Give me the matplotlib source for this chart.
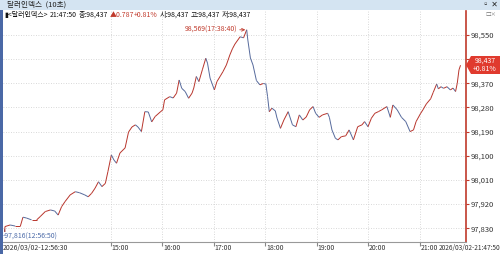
import matplotlib.pyplot as plt
from matplotlib.collections import LineCollection
from matplotlib.patches import Rectangle, Polygon

plt.rcParams['font.family'] = ['Noto Sans CJK KR', 'DejaVu Sans']

# 10-second dollar index
times = ["12:56:30", "12:56:50", "12:57", "13:03", "13:09", "13:15", "13:18", "13:22", "13:28", "13:34",
         "13:38", "13:44", "13:50", "13:55", "13:59", "14:03", "14:07", "14:13", "14:19", "14:24",
         "14:30", "14:34", "14:38", "14:42", "14:46", "14:50", "14:54", "14:57", "15:01", "15:04",
         "15:07", "15:11", "15:17", "15:21", "15:25", "15:29", "15:32", "15:36", "15:40", "15:44",
         "15:48", "15:52", "15:58", "16:01", "16:03", "16:09", "16:13", "16:17", "16:20", "16:23",
         "16:27", "16:31", "16:35", "16:37", "16:40", "16:43", "16:47", "16:51", "16:53", "16:56",
         "17:01", "17:04", "17:08", "17:11", "17:15", "17:19", "17:22", "17:25", "17:31", "17:35",
         "17:38:40", "17:40", "17:43", "17:46", "17:50", "17:54", "17:58", "18:01", "18:03", "18:05",
         "18:08", "18:12", "18:14", "18:18", "18:22", "18:27", "18:32", "18:36", "18:40", "18:44",
         "18:48", "18:52", "18:56", "18:59", "19:03", "19:07", "19:13", "19:15", "19:18", "19:22",
         "19:25", "19:29", "19:34", "19:38", "19:43", "19:48", "19:53", "19:56", "20:00", "20:04",
         "20:08", "20:12", "20:16", "20:22", "20:26", "20:29", "20:34", "20:39", "20:44", "20:49",
         "20:53", "20:56", "21:01", "21:04", "21:08", "21:13", "21:16", "21:20", "21:22", "21:25",
         "21:28", "21:32", "21:36", "21:39", "21:42", "21:44", "21:46", "21:47:50"]
prices = [97.826, 97.816, 97.836, 97.842, 97.838, 97.838, 97.871, 97.868, 97.861, 97.861,
          97.873, 97.892, 97.898, 97.894, 97.879, 97.910, 97.929, 97.954, 97.966, 97.962,
          97.954, 97.947, 97.960, 97.979, 98.003, 97.985, 97.997, 98.041, 98.103, 98.084,
          98.072, 98.110, 98.129, 98.188, 98.207, 98.215, 98.207, 98.190, 98.264, 98.263,
          98.226, 98.246, 98.263, 98.271, 98.308, 98.320, 98.315, 98.333, 98.382, 98.351,
          98.339, 98.314, 98.333, 98.352, 98.395, 98.376, 98.420, 98.463, 98.445, 98.389,
          98.345, 98.376, 98.397, 98.413, 98.438, 98.475, 98.498, 98.516, 98.543, 98.539,
          98.569, 98.531, 98.464, 98.438, 98.380, 98.364, 98.369, 98.367, 98.320, 98.264,
          98.277, 98.267, 98.240, 98.202, 98.233, 98.264, 98.215, 98.208, 98.252, 98.233,
          98.244, 98.271, 98.283, 98.258, 98.243, 98.252, 98.258, 98.243, 98.196, 98.165,
          98.159, 98.171, 98.174, 98.196, 98.159, 98.208, 98.215, 98.227, 98.208, 98.240,
          98.258, 98.264, 98.271, 98.283, 98.243, 98.289, 98.271, 98.243, 98.227, 98.190,
          98.196, 98.227, 98.256, 98.271, 98.293, 98.312, 98.336, 98.367, 98.349, 98.357,
          98.351, 98.357, 98.345, 98.352, 98.339, 98.370, 98.420, 98.437]
y_ticks = [97.830, 97.920, 98.010, 98.100, 98.190, 98.280, 98.370, 98.460, 98.550]
hour_ticks = [15, 16, 17, 18, 19, 20, 21]
hour_labels = ["15:00", "16:00", "17:00", "18:00", "19:00", "20:00", "21:00"]
assert len(times) == len(prices)


def to_hours(s):
    parts = [int(p) for p in s.split(':')] + [0]
    return parts[0] + parts[1] / 60 + parts[2] / 3600


def comma(v):
    return f"{v:.3f}".replace('.', ',')


hours = [to_hours(t) for t in times]

RED = '#b8352c'
BLUE = '#566a9c'
W, H = 500, 254
FS = 5


def fx(px):
    return px / W


def fy(py):
    return 1 - py / H


fig = plt.figure(figsize=(5, 2.54), dpi=100)

# window chrome
fig.patches.append(Rectangle((0, fy(10)), 1, 10 / H, transform=fig.transFigure,
                             facecolor='#d4e4f2', edgecolor='none'))
fig.patches.append(Rectangle((0, 0), fx(3), fy(10), transform=fig.transFigure,
                             facecolor='#4a68a6', edgecolor='none'))
fig.text(fx(7), fy(5), "달러인덱스  (10초)", fontsize=5.5, va='center', color='#222222')
fig.text(fx(482), fy(5), "▫ ✕", fontsize=5.5, va='center', color='#222222')
fig.text(fx(485), fy(15), "□×", fontsize=4, va='center', color='#777777')

ax = fig.add_axes([fx(3), fy(242), fx(466) - fx(3), fy(11) - fy(242)])
ax.set_xlim(12.9126, 21.9029)
ax.set_ylim(97.7786, 98.639)

segs = [[(hours[i], prices[i]), (hours[i + 1], prices[i + 1])] for i in range(len(hours) - 1)]
cols = [RED if prices[i + 1] >= prices[i] else BLUE for i in range(len(hours) - 1)]
ax.add_collection(LineCollection(segs, colors=cols, linewidths=0.7))

# the 98,460 label sits under the last-price tag in the reference
ax.set_yticks(y_ticks)
ax.set_yticklabels(["" if v == 98.460 else comma(v) for v in y_ticks])
ax.yaxis.tick_right()
ax.tick_params(axis='y', length=2, color='#c0392b', labelsize=5.5, labelcolor='#333333', pad=1.5)
ax.set_xticks(hour_ticks)
ax.set_xticklabels([])
ax.tick_params(axis='x', length=3, color='#888888')
ax.grid(True, color='#cccccc', linestyle=(0, (1, 2)), linewidth=0.6)

for side in ['top', 'left']:
    ax.spines[side].set_visible(False)
ax.spines['right'].set_color('#c0392b')
ax.spines['right'].set_linewidth(1.2)
ax.spines['bottom'].set_color('#999999')
ax.spines['bottom'].set_linewidth(0.8)

# x labels, drawn just right of each hour tick
for h, lab in zip(hour_ticks, hour_labels):
    px = 3 + (h - 12.9126) / (21.9029 - 12.9126) * 463
    fig.text(fx(px + 1), fy(248), lab, fontsize=FS, va='center', color='#333333')
fig.text(fx(3), fy(248), "2026/03/02-12:56:30", fontsize=FS, va='center', color='#333333')
fig.text(fx(500), fy(248), "2026/03/02-21:47:50", fontsize=4.7, va='center', ha='right', color='#333333')

# header line
fig.text(fx(4), fy(15), "▮<달러인덱스>", fontsize=FS, va='center', color='#111111')
fig.text(fx(50), fy(15), "21:47:50", fontsize=FS, va='center', color='#111111')
fig.text(fx(79), fy(15), "종:98,437", fontsize=FS, va='center', color='#111111')
fig.text(fx(110), fy(15), "▲0.787", fontsize=FS, va='center', color='#c0392b')
fig.text(fx(134), fy(15), "+0.81%", fontsize=FS, va='center', color='#c0392b')
fig.text(fx(160), fy(15), "시:98,437", fontsize=FS, va='center', color='#111111')
fig.text(fx(191), fy(15), "고:98,437", fontsize=FS, va='center', color='#111111')
fig.text(fx(222), fy(15), "저:98,437", fontsize=FS, va='center', color='#111111')

# high / low markers
i_hi = prices.index(max(prices))
i_lo = prices.index(min(prices))
ax.annotate(comma(prices[i_hi]) + f"({times[i_hi]})",
            xy=(hours[i_hi], prices[i_hi]), xytext=(-7, 0), textcoords='offset points',
            ha='right', va='center', fontsize=FS, color='#c0392b',
            arrowprops=dict(arrowstyle='->', color='#c0392b', lw=0.6, shrinkA=0, shrinkB=1))
fig.text(fx(3), fy(237), "-" + comma(prices[i_lo]) + f"({times[i_lo]})",
         fontsize=FS, va='center', color='#4b6aa8')

# last price tag
tag = Polygon([(fx(466), fy(65)), (fx(471), fy(56)), (fx(500), fy(56)), (fx(500), fy(74)), (fx(471), fy(74))],
              closed=True, transform=fig.transFigure, facecolor='#e03a2e', edgecolor='none')
fig.patches.append(tag)
fig.text(fx(485), fy(61), comma(prices[-1]), fontsize=FS, ha='center', va='center', color='white')
fig.text(fx(485), fy(69), "+0.81%", fontsize=FS, ha='center', va='center', color='white')

fig.savefig('out.png', dpi=100)
